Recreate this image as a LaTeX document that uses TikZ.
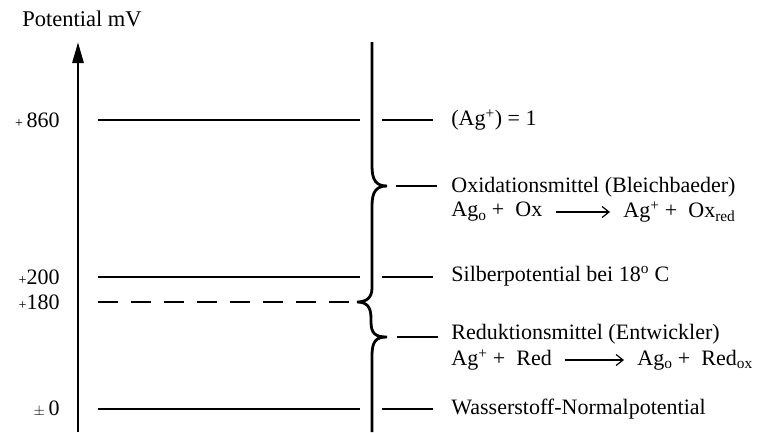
\documentclass[tikz,border=0pt]{standalone}
\usepackage{fontspec}
\setmainfont{Liberation Serif}
\usetikzlibrary{arrows.meta}
\begin{document}
\begin{tikzpicture}[x=1pt,y=-1pt,line width=2.8pt,
  lbl/.style={anchor=west,inner sep=0pt,font=\fontsize{22}{24}\selectfont},
  num/.style={anchor=east,inner sep=0pt,font=\fontsize{22}{24}\selectfont},
  rxn/.style={line width=1.2pt,-{Straight Barb[length=7pt,width=11pt]}},
  lvl/.style={line width=2.8pt}]
\useasboundingbox (0,0) rectangle (770,432);
% title and axis
\node[inner sep=0pt,font=\fontsize{22.5}{24}\selectfont] (title) at (82,19) {Potential mV};
\coordinate (ax0) at (78,432);
\coordinate (ax1) at (78,42);
\draw[-{Triangle[length=21pt,width=11pt]}] (ax0) -- (ax1);
% potential values
\node[num] (n860) at (61,120) {{\fontsize{14}{14}\selectfont+}\,860};
\node[num] (n200) at (61,277) {{\fontsize{14}{14}\selectfont+}200};
\node[num] (n180) at (61,302) {{\fontsize{14}{14}\selectfont+}180};
\node[num] (n0) at (61,409) {{\fontsize{14}{14}\selectfont$\pm$}\,0};
% level lines
\draw[lvl] (98,120) -- (360,120);
\draw[lvl] (98,277) -- (360,277);
\draw[lvl,dash pattern=on 20pt off 13pt] (98,302) -- (352,302);
\draw[lvl] (98,409) -- (360,409);
% vertical line with braces
\draw (372,42) -- (372,166)
  .. controls (372,180) and (376,186) .. (387,186)
  .. controls (376,186) and (372,192) .. (372,206)
  -- (372,288)
  .. controls (372,298) and (366,302) .. (357,302)
  .. controls (366,302) and (371,306) .. (371,318)
  -- (371,322)
  .. controls (371,334) and (376,337) .. (387,337)
  .. controls (376,337) and (372,341) .. (372,356)
  -- (372,432);
% right dashes
\draw (382,120) -- (433,120);
\draw (396,186) -- (437,186);
\draw (382,277) -- (433,277);
\draw (397,337) -- (438,337);
\draw (382,409) -- (433,409);
% labels
\node[lbl] (ag) at (450,120) {(Ag\textsuperscript{+}) = 1};
\node[lbl] (ox) at (450,187) {Oxidationsmittel (Bleichbaeder)};
\node[lbl] (ox1) at (450,212) {Ag\textsubscript{o} + \ Ox};
\node[lbl] (ox2) at (622,212) {Ag\textsuperscript{+} + \ Ox\textsubscript{red}};
\draw[rxn] ([xshift=12pt]ox1.east) -- ([xshift=-12pt]ox2.west);
\node[lbl] (si) at (450,276) {Silberpotential bei 18\textsuperscript{o} C};
\node[lbl] (re) at (450,334) {Reduktionsmittel (Entwickler)};
\node[lbl] (re1) at (450,360) {Ag\textsuperscript{+} + \ Red};
\node[lbl] (re2) at (636,360) {Ag\textsubscript{o} + \ Red\textsubscript{ox}};
\draw[rxn] ([xshift=12pt]re1.east) -- ([xshift=-12pt]re2.west);
\node[lbl] (wa) at (450,409) {Wasserstoff-Normalpotential};
\end{tikzpicture}
\end{document}
